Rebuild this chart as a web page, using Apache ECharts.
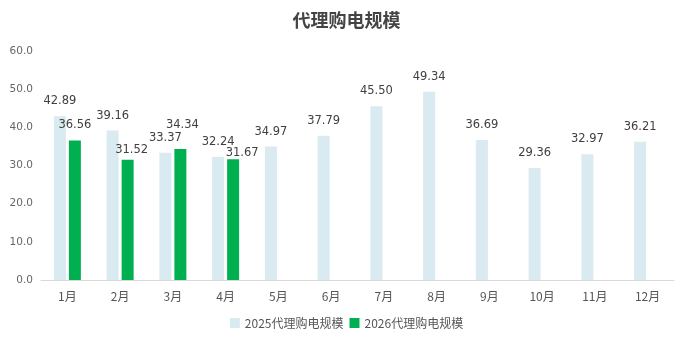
<!DOCTYPE html>
<html>
<head>
<meta charset="utf-8">
<script src="https://cdn.jsdelivr.net/npm/echarts@6/dist/echarts.min.js"></script>
<style>
html,body{margin:0;padding:0;background:#fff;}
#chart{width:693px;height:342px;}
</style>
</head>
<body>
<div id="chart"></div>
<script>
// Monthly agency power purchase volume
const months = ['1月','2月','3月','4月','5月','6月','7月','8月','9月','10月','11月','12月'];
const series2025 = [42.89, 39.16, 33.37, 32.24, 34.97, 37.79, 45.50, 49.34, 36.69, 29.36, 32.97, 36.21];
const series2026 = [36.56, 31.52, 34.34, 31.67];
const seriesNames = ['2025代理购电规模', '2026代理购电规模'];

// label nudges for the 2026 bars so they don't collide with neighbours
const labelShift2026 = [[0, 0], [4, 5], [2, -9], [9, 9]];

const font = '"Noto Sans CJK SC", "Noto Sans", sans-serif';
const numFont = '"DejaVu Sans", "Noto Sans", sans-serif';
const chart = echarts.init(document.getElementById('chart'));

const valueLabel = {
  show: true,
  position: 'top',
  distance: 9,
  color: '#404040',
  fontSize: 11.5,
  fontFamily: numFont,
  formatter: p => p.value.toFixed(2)
};

chart.setOption({
  animation: false,
  textStyle: { fontFamily: font },
  title: {
    text: '代理购电规模',
    left: 'center',
    top: 6,
    textStyle: { fontSize: 18, fontWeight: 'bold', color: '#444', fontFamily: font }
  },
  legend: {
    bottom: 8,
    left: 'center',
    itemWidth: 10,
    itemHeight: 10,
    itemGap: 6,
    icon: 'rect',
    textStyle: { fontSize: 12, color: '#555', fontFamily: font },
    data: seriesNames
  },
  grid: { left: 41, right: 19, top: 51, bottom: 62 },
  xAxis: {
    type: 'category',
    data: months,
    axisLine: { lineStyle: { color: '#d9d9d9' } },
    axisTick: { show: false },
    axisLabel: { color: '#555', fontSize: 12, margin: 10 }
  },
  yAxis: {
    type: 'value',
    min: 0,
    max: 60,
    interval: 10,
    axisLine: { show: false },
    axisTick: { show: false },
    splitLine: { show: false },
    axisLabel: { color: '#666', fontSize: 10.5, fontFamily: numFont, margin: 8, formatter: v => v.toFixed(1) }
  },
  series: [
    {
      name: seriesNames[0],
      type: 'bar',
      data: series2025,
      barWidth: 12,
      barGap: '25%',
      itemStyle: { color: '#d9eaf0' },
      label: valueLabel
    },
    {
      name: seriesNames[1],
      type: 'bar',
      data: series2026.map((v, i) => ({
        value: v,
        label: { offset: labelShift2026[i] }
      })),
      barWidth: 12,
      itemStyle: { color: '#00b050' },
      label: valueLabel
    }
  ]
});
</script>
</body>
</html>
